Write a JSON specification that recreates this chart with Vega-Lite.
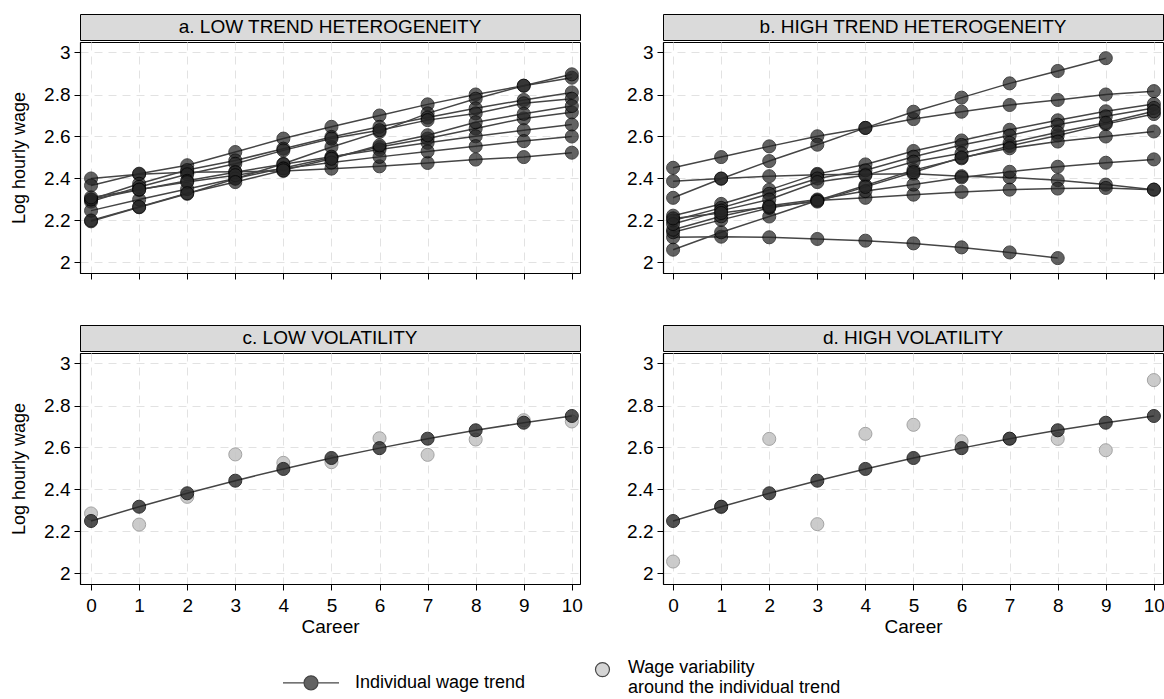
{
  "$schema": "https://vega.github.io/schema/vega-lite/v6.json",
  "background": "white",
  "padding": {"left": 10, "top": 13, "right": 0, "bottom": 0},
  "config": {
    "font": "Liberation Sans",
    "axis": {
      "domainColor": "#000", "domainWidth": 1.2, "tickColor": "#000", "tickSize": 6, "tickWidth": 1,
      "labelFont": "Liberation Sans", "labelFontSize": 19, "labelColor": "#000", "labelPadding": 4,
      "titleFont": "Liberation Sans", "titleFontWeight": "normal", "titleColor": "#000",
      "gridColor": "#e2e2e2", "gridDash": [8, 6], "gridWidth": 1
    }
  },
  "datasets": {
    "low_trend": [
      {"person":"a1","career":0,"wage":2.40},{"person":"a1","career":1,"wage":2.42},{"person":"a1","career":2,"wage":2.43},{"person":"a1","career":3,"wage":2.432},{"person":"a1","career":4,"wage":2.436},{"person":"a1","career":5,"wage":2.447},{"person":"a1","career":6,"wage":2.458},{"person":"a1","career":7,"wage":2.474},{"person":"a1","career":8,"wage":2.49},{"person":"a1","career":9,"wage":2.502},{"person":"a1","career":10,"wage":2.523},
      {"person":"a2","career":0,"wage":2.367},{"person":"a2","career":1,"wage":2.423},{"person":"a2","career":2,"wage":2.463},{"person":"a2","career":3,"wage":2.526},{"person":"a2","career":4,"wage":2.59},{"person":"a2","career":5,"wage":2.646},{"person":"a2","career":6,"wage":2.70},{"person":"a2","career":7,"wage":2.753},{"person":"a2","career":8,"wage":2.80},{"person":"a2","career":9,"wage":2.842},{"person":"a2","career":10,"wage":2.88},
      {"person":"a3","career":0,"wage":2.196},{"person":"a3","career":1,"wage":2.263},{"person":"a3","career":2,"wage":2.327},{"person":"a3","career":3,"wage":2.399},{"person":"a3","career":4,"wage":2.47},{"person":"a3","career":5,"wage":2.55},{"person":"a3","career":6,"wage":2.622},{"person":"a3","career":7,"wage":2.71},{"person":"a3","career":8,"wage":2.78},{"person":"a3","career":9,"wage":2.842},{"person":"a3","career":10,"wage":2.896},
      {"person":"a4","career":0,"wage":2.30},{"person":"a4","career":1,"wage":2.375},{"person":"a4","career":2,"wage":2.44},{"person":"a4","career":3,"wage":2.486},{"person":"a4","career":4,"wage":2.542},{"person":"a4","career":5,"wage":2.598},{"person":"a4","career":6,"wage":2.646},{"person":"a4","career":7,"wage":2.69},{"person":"a4","career":8,"wage":2.734},{"person":"a4","career":9,"wage":2.774},{"person":"a4","career":10,"wage":2.81},
      {"person":"a5","career":0,"wage":2.29},{"person":"a5","career":1,"wage":2.36},{"person":"a5","career":2,"wage":2.42},{"person":"a5","career":3,"wage":2.47},{"person":"a5","career":4,"wage":2.534},{"person":"a5","career":5,"wage":2.59},{"person":"a5","career":6,"wage":2.63},{"person":"a5","career":7,"wage":2.678},{"person":"a5","career":8,"wage":2.71},{"person":"a5","career":9,"wage":2.758},{"person":"a5","career":10,"wage":2.78},
      {"person":"a6","career":0,"wage":2.247},{"person":"a6","career":1,"wage":2.30},{"person":"a6","career":2,"wage":2.35},{"person":"a6","career":3,"wage":2.40},{"person":"a6","career":4,"wage":2.45},{"person":"a6","career":5,"wage":2.50},{"person":"a6","career":6,"wage":2.55},{"person":"a6","career":7,"wage":2.59},{"person":"a6","career":8,"wage":2.638},{"person":"a6","career":9,"wage":2.686},{"person":"a6","career":10,"wage":2.715},
      {"person":"a7","career":0,"wage":2.30},{"person":"a7","career":1,"wage":2.346},{"person":"a7","career":2,"wage":2.389},{"person":"a7","career":3,"wage":2.43},{"person":"a7","career":4,"wage":2.468},{"person":"a7","career":5,"wage":2.504},{"person":"a7","career":6,"wage":2.538},{"person":"a7","career":7,"wage":2.57},{"person":"a7","career":8,"wage":2.601},{"person":"a7","career":9,"wage":2.63},{"person":"a7","career":10,"wage":2.657},
      {"person":"a8","career":0,"wage":2.31},{"person":"a8","career":1,"wage":2.348},{"person":"a8","career":2,"wage":2.383},{"person":"a8","career":3,"wage":2.416},{"person":"a8","career":4,"wage":2.447},{"person":"a8","career":5,"wage":2.476},{"person":"a8","career":6,"wage":2.503},{"person":"a8","career":7,"wage":2.529},{"person":"a8","career":8,"wage":2.554},{"person":"a8","career":9,"wage":2.578},{"person":"a8","career":10,"wage":2.60},
      {"person":"a9","career":0,"wage":2.20},{"person":"a9","career":1,"wage":2.265},{"person":"a9","career":2,"wage":2.33},{"person":"a9","career":3,"wage":2.383},{"person":"a9","career":4,"wage":2.439},{"person":"a9","career":5,"wage":2.494},{"person":"a9","career":6,"wage":2.558},{"person":"a9","career":7,"wage":2.606},{"person":"a9","career":8,"wage":2.668},{"person":"a9","career":9,"wage":2.708},{"person":"a9","career":10,"wage":2.745}
    ],
    "high_trend": [
      {"person":"b1","career":0,"wage":2.451},{"person":"b1","career":1,"wage":2.502},{"person":"b1","career":2,"wage":2.553},{"person":"b1","career":3,"wage":2.601},{"person":"b1","career":4,"wage":2.641},{"person":"b1","career":5,"wage":2.683},{"person":"b1","career":6,"wage":2.718},{"person":"b1","career":7,"wage":2.75},{"person":"b1","career":8,"wage":2.774},{"person":"b1","career":9,"wage":2.80},{"person":"b1","career":10,"wage":2.816},
      {"person":"b2","career":0,"wage":2.308},{"person":"b2","career":1,"wage":2.399},{"person":"b2","career":2,"wage":2.483},{"person":"b2","career":3,"wage":2.561},{"person":"b2","career":4,"wage":2.641},{"person":"b2","career":5,"wage":2.718},{"person":"b2","career":6,"wage":2.785},{"person":"b2","career":7,"wage":2.853},{"person":"b2","career":8,"wage":2.912},{"person":"b2","career":9,"wage":2.973},
      {"person":"b3","career":0,"wage":2.387},{"person":"b3","career":1,"wage":2.40},{"person":"b3","career":2,"wage":2.411},{"person":"b3","career":3,"wage":2.418},{"person":"b3","career":4,"wage":2.42},{"person":"b3","career":5,"wage":2.423},{"person":"b3","career":6,"wage":2.411},{"person":"b3","career":7,"wage":2.405},{"person":"b3","career":8,"wage":2.392},{"person":"b3","career":9,"wage":2.371},{"person":"b3","career":10,"wage":2.347},
      {"person":"b4","career":0,"wage":2.12},{"person":"b4","career":1,"wage":2.123},{"person":"b4","career":2,"wage":2.12},{"person":"b4","career":3,"wage":2.112},{"person":"b4","career":4,"wage":2.104},{"person":"b4","career":5,"wage":2.091},{"person":"b4","career":6,"wage":2.072},{"person":"b4","career":7,"wage":2.048},{"person":"b4","career":8,"wage":2.021},
      {"person":"b5","career":0,"wage":2.061},{"person":"b5","career":1,"wage":2.144},{"person":"b5","career":2,"wage":2.219},{"person":"b5","career":3,"wage":2.295},{"person":"b5","career":4,"wage":2.367},{"person":"b5","career":5,"wage":2.44},{"person":"b5","career":6,"wage":2.496},{"person":"b5","career":7,"wage":2.555},{"person":"b5","career":8,"wage":2.605},{"person":"b5","career":9,"wage":2.659},{"person":"b5","career":10,"wage":2.707},
      {"person":"b6","career":0,"wage":2.144},{"person":"b6","career":1,"wage":2.203},{"person":"b6","career":2,"wage":2.26},{"person":"b6","career":3,"wage":2.295},{"person":"b6","career":4,"wage":2.308},{"person":"b6","career":5,"wage":2.323},{"person":"b6","career":6,"wage":2.336},{"person":"b6","career":7,"wage":2.347},{"person":"b6","career":8,"wage":2.352},{"person":"b6","career":9,"wage":2.355},{"person":"b6","career":10,"wage":2.347},
      {"person":"b7","career":0,"wage":2.156},{"person":"b7","career":1,"wage":2.22},{"person":"b7","career":2,"wage":2.27},{"person":"b7","career":3,"wage":2.30},{"person":"b7","career":4,"wage":2.34},{"person":"b7","career":5,"wage":2.371},{"person":"b7","career":6,"wage":2.405},{"person":"b7","career":7,"wage":2.432},{"person":"b7","career":8,"wage":2.456},{"person":"b7","career":9,"wage":2.475},{"person":"b7","career":10,"wage":2.491},
      {"person":"b8","career":0,"wage":2.223},{"person":"b8","career":1,"wage":2.279},{"person":"b8","career":2,"wage":2.346},{"person":"b8","career":3,"wage":2.422},{"person":"b8","career":4,"wage":2.467},{"person":"b8","career":5,"wage":2.531},{"person":"b8","career":6,"wage":2.581},{"person":"b8","career":7,"wage":2.632},{"person":"b8","career":8,"wage":2.677},{"person":"b8","career":9,"wage":2.72},{"person":"b8","career":10,"wage":2.755},
      {"person":"b9","career":0,"wage":2.20},{"person":"b9","career":1,"wage":2.26},{"person":"b9","career":2,"wage":2.327},{"person":"b9","career":3,"wage":2.40},{"person":"b9","career":4,"wage":2.439},{"person":"b9","career":5,"wage":2.504},{"person":"b9","career":6,"wage":2.56},{"person":"b9","career":7,"wage":2.605},{"person":"b9","career":8,"wage":2.656},{"person":"b9","career":9,"wage":2.696},{"person":"b9","career":10,"wage":2.736},
      {"person":"b10","career":0,"wage":2.183},{"person":"b10","career":1,"wage":2.247},{"person":"b10","career":2,"wage":2.30},{"person":"b10","career":3,"wage":2.383},{"person":"b10","career":4,"wage":2.415},{"person":"b10","career":5,"wage":2.48},{"person":"b10","career":6,"wage":2.52},{"person":"b10","career":7,"wage":2.57},{"person":"b10","career":8,"wage":2.62},{"person":"b10","career":9,"wage":2.665},{"person":"b10","career":10,"wage":2.72},
      {"person":"b11","career":0,"wage":2.21},{"person":"b11","career":1,"wage":2.236},{"person":"b11","career":2,"wage":2.265},{"person":"b11","career":3,"wage":2.29},{"person":"b11","career":4,"wage":2.36},{"person":"b11","career":5,"wage":2.43},{"person":"b11","career":6,"wage":2.50},{"person":"b11","career":7,"wage":2.544},{"person":"b11","career":8,"wage":2.576},{"person":"b11","career":9,"wage":2.60},{"person":"b11","career":10,"wage":2.624}
    ],
    "low_vol": [
      {"series":"Individual wage trend","career":0,"wage":2.25},{"series":"Individual wage trend","career":1,"wage":2.318},{"series":"Individual wage trend","career":2,"wage":2.382},{"series":"Individual wage trend","career":3,"wage":2.442},{"series":"Individual wage trend","career":4,"wage":2.498},{"series":"Individual wage trend","career":5,"wage":2.55},{"series":"Individual wage trend","career":6,"wage":2.597},{"series":"Individual wage trend","career":7,"wage":2.642},{"series":"Individual wage trend","career":8,"wage":2.682},{"series":"Individual wage trend","career":9,"wage":2.718},{"series":"Individual wage trend","career":10,"wage":2.75},
      {"series":"Wage variability around the individual trend","career":0,"wage":2.286},{"series":"Wage variability around the individual trend","career":1,"wage":2.233},{"series":"Wage variability around the individual trend","career":2,"wage":2.365},{"series":"Wage variability around the individual trend","career":3,"wage":2.567},{"series":"Wage variability around the individual trend","career":4,"wage":2.527},{"series":"Wage variability around the individual trend","career":5,"wage":2.53},{"series":"Wage variability around the individual trend","career":6,"wage":2.644},{"series":"Wage variability around the individual trend","career":7,"wage":2.565},{"series":"Wage variability around the individual trend","career":8,"wage":2.638},{"series":"Wage variability around the individual trend","career":9,"wage":2.73},{"series":"Wage variability around the individual trend","career":10,"wage":2.724}
    ],
    "high_vol": [
      {"series":"Individual wage trend","career":0,"wage":2.25},{"series":"Individual wage trend","career":1,"wage":2.318},{"series":"Individual wage trend","career":2,"wage":2.382},{"series":"Individual wage trend","career":3,"wage":2.442},{"series":"Individual wage trend","career":4,"wage":2.498},{"series":"Individual wage trend","career":5,"wage":2.55},{"series":"Individual wage trend","career":6,"wage":2.597},{"series":"Individual wage trend","career":7,"wage":2.642},{"series":"Individual wage trend","career":8,"wage":2.682},{"series":"Individual wage trend","career":9,"wage":2.718},{"series":"Individual wage trend","career":10,"wage":2.75},
      {"series":"Wage variability around the individual trend","career":0,"wage":2.057},{"series":"Wage variability around the individual trend","career":1,"wage":2.317},{"series":"Wage variability around the individual trend","career":2,"wage":2.641},{"series":"Wage variability around the individual trend","career":3,"wage":2.235},{"series":"Wage variability around the individual trend","career":4,"wage":2.665},{"series":"Wage variability around the individual trend","career":5,"wage":2.708},{"series":"Wage variability around the individual trend","career":6,"wage":2.63},{"series":"Wage variability around the individual trend","career":7,"wage":2.642},{"series":"Wage variability around the individual trend","career":8,"wage":2.641},{"series":"Wage variability around the individual trend","career":9,"wage":2.587},{"series":"Wage variability around the individual trend","career":10,"wage":2.921}
    ]
  },
  "spacing": 44,
  "resolve": {"scale": {"color": "shared"}, "legend": {"color": "shared"}},
  "vconcat": [
    {
      "spacing": 45,
      "hconcat": [
        {
          "spacing": 0,
          "vconcat": [
            {
              "width": 500, "height": 26,
              "view": {"fill": "#dadada", "stroke": "#000", "strokeWidth": 1},
              "data": {"values": [{"label": "a. LOW TREND HETEROGENEITY"}]},
              "mark": {"type": "text", "fontSize": 19, "baseline": "middle", "color": "#000"},
              "encoding": {"text": {"field": "label"}}
            },
            {
              "width": 500, "height": 231,
              "view": {"fill": "white", "stroke": "#000", "strokeWidth": 1},
              "data": {"name": "low_trend"},
              "encoding": {
                "x": {"field": "career", "type": "quantitative", "scale": {"domain": [-0.23, 10.17], "nice": false, "zero": false}, "axis": {"values": [0,1,2,3,4,5,6,7,8,9,10], "labels": false, "title": null}},
                "y": {"field": "wage", "type": "quantitative", "scale": {"domain": [1.95, 3.05], "nice": false, "zero": false}, "axis": {"values": [2,2.2,2.4,2.6,2.8,3], "format": ".1~f", "title": "Log hourly wage", "titleFontSize": 18, "titlePadding": 15}}
              },
              "layer": [
                {"mark": {"type": "line", "color": "#454545", "strokeWidth": 1.5}, "encoding": {"detail": {"field": "person"}}},
                {"mark": {"type": "point", "filled": true, "size": 170, "stroke": "#000", "strokeWidth": 1, "opacity": 0.72}, "encoding": {"color": {"datum": "Individual wage trend", "type": "nominal"}}}
              ]
            }
          ]
        },
        {
          "spacing": 0,
          "vconcat": [
            {
              "width": 500, "height": 26,
              "view": {"fill": "#dadada", "stroke": "#000", "strokeWidth": 1},
              "data": {"values": [{"label": "b. HIGH TREND HETEROGENEITY"}]},
              "mark": {"type": "text", "fontSize": 19, "baseline": "middle", "color": "#000"},
              "encoding": {"text": {"field": "label"}}
            },
            {
              "width": 500, "height": 231,
              "view": {"fill": "white", "stroke": "#000", "strokeWidth": 1},
              "data": {"name": "high_trend"},
              "encoding": {
                "x": {"field": "career", "type": "quantitative", "scale": {"domain": [-0.21, 10.19], "nice": false, "zero": false}, "axis": {"values": [0,1,2,3,4,5,6,7,8,9,10], "labels": false, "title": null}},
                "y": {"field": "wage", "type": "quantitative", "scale": {"domain": [1.95, 3.05], "nice": false, "zero": false}, "axis": {"values": [2,2.2,2.4,2.6,2.8,3], "format": ".1~f", "title": null}}
              },
              "layer": [
                {"mark": {"type": "line", "color": "#454545", "strokeWidth": 1.5}, "encoding": {"detail": {"field": "person"}}},
                {"mark": {"type": "point", "filled": true, "size": 170, "stroke": "#000", "strokeWidth": 1, "opacity": 0.72}, "encoding": {"color": {"datum": "Individual wage trend", "type": "nominal"}}}
              ]
            }
          ]
        }
      ]
    },
    {
      "spacing": 43,
      "hconcat": [
        {
          "spacing": 0,
          "vconcat": [
            {
              "width": 500, "height": 26,
              "view": {"fill": "#dadada", "stroke": "#000", "strokeWidth": 1},
              "data": {"values": [{"label": "c. LOW VOLATILITY"}]},
              "mark": {"type": "text", "fontSize": 19, "baseline": "middle", "color": "#000"},
              "encoding": {"text": {"field": "label"}}
            },
            {
              "width": 500, "height": 231,
              "view": {"fill": "white", "stroke": "#000", "strokeWidth": 1},
              "data": {"name": "low_vol"},
              "encoding": {
                "x": {"field": "career", "type": "quantitative", "scale": {"domain": [-0.23, 10.17], "nice": false, "zero": false}, "axis": {"values": [0,1,2,3,4,5,6,7,8,9,10], "title": "Career", "titleFontSize": 19, "labelPadding": 6, "titlePadding": 2}},
                "y": {"field": "wage", "type": "quantitative", "scale": {"domain": [1.95, 3.05], "nice": false, "zero": false}, "axis": {"values": [2,2.2,2.4,2.6,2.8,3], "format": ".1~f", "title": "Log hourly wage", "titleFontSize": 18, "titlePadding": 15}}
              },
              "layer": [
                {"transform": [{"filter": "datum.series != 'Individual wage trend'"}], "mark": {"type": "point", "filled": true, "size": 170, "stroke": "#9a9a9a", "strokeWidth": 1, "opacity": 0.9}, "encoding": {"color": {"field": "series", "type": "nominal"}}},
                {"transform": [{"filter": "datum.series == 'Individual wage trend'"}], "mark": {"type": "line", "color": "#454545", "strokeWidth": 1.5}, "encoding": {}},
                {"transform": [{"filter": "datum.series == 'Individual wage trend'"}], "mark": {"type": "point", "filled": true, "size": 170, "stroke": "#000", "strokeWidth": 1, "opacity": 0.8}, "encoding": {"color": {"field": "series", "type": "nominal"}}}
              ]
            }
          ]
        },
        {
          "spacing": 0,
          "vconcat": [
            {
              "width": 500, "height": 26,
              "view": {"fill": "#dadada", "stroke": "#000", "strokeWidth": 1},
              "data": {"values": [{"label": "d. HIGH VOLATILITY"}]},
              "mark": {"type": "text", "fontSize": 19, "baseline": "middle", "color": "#000"},
              "encoding": {"text": {"field": "label"}}
            },
            {
              "width": 500, "height": 231,
              "view": {"fill": "white", "stroke": "#000", "strokeWidth": 1},
              "data": {"name": "high_vol"},
              "encoding": {
                "x": {"field": "career", "type": "quantitative", "scale": {"domain": [-0.21, 10.19], "nice": false, "zero": false}, "axis": {"values": [0,1,2,3,4,5,6,7,8,9,10], "title": "Career", "titleFontSize": 19, "labelPadding": 6, "titlePadding": 2}},
                "y": {"field": "wage", "type": "quantitative", "scale": {"domain": [1.95, 3.05], "nice": false, "zero": false}, "axis": {"values": [2,2.2,2.4,2.6,2.8,3], "format": ".1~f", "title": null}}
              },
              "layer": [
                {"transform": [{"filter": "datum.series != 'Individual wage trend'"}], "mark": {"type": "point", "filled": true, "size": 170, "stroke": "#9a9a9a", "strokeWidth": 1, "opacity": 0.9}, "encoding": {"color": {"field": "series", "type": "nominal"}}},
                {"transform": [{"filter": "datum.series == 'Individual wage trend'"}], "mark": {"type": "line", "color": "#454545", "strokeWidth": 1.5}, "encoding": {}},
                {"transform": [{"filter": "datum.series == 'Individual wage trend'"}], "mark": {"type": "point", "filled": true, "size": 170, "stroke": "#000", "strokeWidth": 1, "opacity": 0.8}, "encoding": {"color": {
                  "field": "series", "type": "nominal",
                  "scale": {"domain": ["Individual wage trend", "Wage variability around the individual trend"], "range": ["#262626", "#c6c6c6"]},
                  "legend": {
                    "orient": "none", "legendX": 202, "legendY": 635, "direction": "horizontal", "title": null,
                    "symbolSize": 3136, "symbolStrokeWidth": 1.2, "symbolOpacity": 0.85,
                    "symbolType": {"expr": "datum.value == 'Individual wage trend' ? 'M-1,0H-0.25M0.25,0H1M-0.25,0A0.25,0.25,0,1,1,0.25,0A0.25,0.25,0,1,1,-0.25,0Z' : 'M0.41,-0.3A0.25,0.25,0,1,1,0.91,-0.3A0.25,0.25,0,1,1,0.41,-0.3Z'"},
                    "symbolStrokeColor": {"expr": "datum.value == 'Individual wage trend' ? '#222222' : '#9a9a9a'"},
                    "labelFontSize": 18, "labelFont": "Liberation Sans", "labelColor": "#000",
                    "labelBaseline": {"expr": "datum.value == 'Individual wage trend' ? 'middle' : 'line-bottom'"},
                    "labelLimit": 400, "labelOffset": 15, "columnPadding": 29, "padding": 0,
                    "labelExpr": "datum.label == 'Wage variability around the individual trend' ? ['Wage variability', 'around the individual trend'] : datum.label"
                  }
                }}}
              ]
            }
          ]
        }
      ]
    }
  ]
}
